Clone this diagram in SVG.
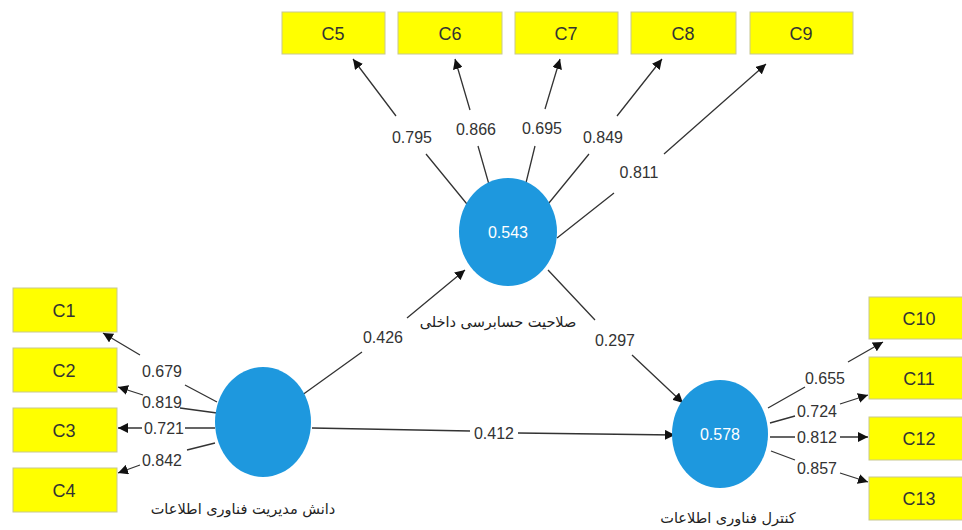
<svg xmlns="http://www.w3.org/2000/svg" width="962" height="530" viewBox="0 0 962 530">
<defs>
<marker id="ah" viewBox="0 0 10 10" refX="10" refY="5" markerWidth="10" markerHeight="10" markerUnits="userSpaceOnUse" orient="auto">
<path d="M0,0 L10,5 L0,10 z" fill="#111"/>
</marker>
<style>
.box{fill:#ffff00;stroke:#c8c890;stroke-width:1}
.bt{font-family:"Liberation Sans",Arial,sans-serif;font-size:18px;fill:#333;text-anchor:middle}
.lat{fill:#1e98de}
.lt{font-family:"Liberation Sans",Arial,sans-serif;font-size:16px;fill:#fff;text-anchor:middle}
.w{font-family:"Liberation Sans",Arial,sans-serif;font-size:16px;fill:#333;text-anchor:middle}
.c{fill:none;stroke:#333;stroke-width:1.3;marker-end:url(#ah)}
.nm{font-family:"DejaVu Sans","Noto Sans",sans-serif;font-size:14.5px;fill:#222;text-anchor:middle}
</style>
</defs>
<rect width="962" height="530" fill="#fff"/>
<g id="connectors">
<path class="c" d="M471,209 L426,154 M396,116 L353,59"/>
<path class="c" d="M492,195 L478,146 M470,110 L455,59"/>
<path class="c" d="M523,195 L535,146 M545,109 L560,59"/>
<path class="c" d="M544,209 L589,154 M617,116 L662,59"/>
<path class="c" d="M557,238 L614,193 M664,154 L766,64"/>
<path class="c" d="M217,402 L185,385 M140,355 L103,333"/>
<path class="c" d="M217,413 L180,408 M143,395 L118,387"/>
<path class="c" d="M215,428 L185,428 M142,428 L118,428"/>
<path class="c" d="M215,443 L187,450 M140,465 L118,473"/>
<path class="c" d="M768,408 L805,387 M848,362 L883,342"/>
<path class="c" d="M770,423 L795,416 M840,404 L868,395"/>
<path class="c" d="M770,437 L795,437 M840,437 L868,437"/>
<path class="c" d="M771,451 L795,460 M840,473 L868,482"/>
<path class="c" d="M298,398 L362,352 M407,318 L465,270"/>
<path class="c" d="M548,270 L595,320 M632,355 L683,403"/>
<path class="c" d="M312,428 L470,431 M518,433 L675,435"/>
<g>
<text class="w" x="412" y="143">0.795</text>
<text class="w" x="476" y="135">0.866</text>
<text class="w" x="542" y="134">0.695</text>
<text class="w" x="603" y="143">0.849</text>
<text class="w" x="639" y="178">0.811</text>
<text class="w" x="162" y="377">0.679</text>
<text class="w" x="162" y="408">0.819</text>
<text class="w" x="164" y="434">0.721</text>
<text class="w" x="162" y="466">0.842</text>
<text class="w" x="825" y="384">0.655</text>
<text class="w" x="817" y="417">0.724</text>
<text class="w" x="817" y="443">0.812</text>
<text class="w" x="817" y="474">0.857</text>
<text class="w" x="383" y="343">0.426</text>
<text class="w" x="615" y="346">0.297</text>
<text class="w" x="494" y="439">0.412</text>
</g>
</g>
<g id="n-mid">
<ellipse class="lat" cx="508" cy="232" rx="49" ry="54"/>
<text class="lt" x="508" y="238">0.543</text>
<text class="nm" x="498" y="327" direction="rtl">صلاحیت حسابرسی داخلی</text>
</g>
<g id="n-left">
<ellipse class="lat" cx="263" cy="422" rx="48" ry="55"/>
<text class="nm" x="243" y="514" direction="rtl">دانش مدیریت فناوری اطلاعات</text>
</g>
<g id="n-right">
<ellipse class="lat" cx="720" cy="434" rx="48" ry="54"/>
<text class="lt" x="720" y="440">0.578</text>
<text class="nm" x="728" y="523" direction="rtl">کنترل فناوری اطلاعات</text>
</g>
<g id="C5"><rect class="box" x="282" y="12" width="103" height="42"/><text class="bt" x="333" y="40">C5</text></g>
<g id="C6"><rect class="box" x="398" y="12" width="104" height="42"/><text class="bt" x="450" y="40">C6</text></g>
<g id="C7"><rect class="box" x="515" y="12" width="103" height="42"/><text class="bt" x="566" y="40">C7</text></g>
<g id="C8"><rect class="box" x="631" y="12" width="105" height="42"/><text class="bt" x="683" y="40">C8</text></g>
<g id="C9"><rect class="box" x="750" y="12" width="103" height="42"/><text class="bt" x="801" y="40">C9</text></g>
<g id="C1"><rect class="box" x="13" y="288" width="104" height="44"/><text class="bt" x="64" y="317">C1</text></g>
<g id="C2"><rect class="box" x="13" y="348" width="104" height="44"/><text class="bt" x="64" y="377">C2</text></g>
<g id="C3"><rect class="box" x="13" y="408" width="104" height="44"/><text class="bt" x="64" y="437">C3</text></g>
<g id="C4"><rect class="box" x="13" y="468" width="104" height="44"/><text class="bt" x="64" y="497">C4</text></g>
<g id="C10"><rect class="box" x="869" y="297" width="100" height="42"/><text class="bt" x="919" y="325">C10</text></g>
<g id="C11"><rect class="box" x="869" y="357" width="100" height="42"/><text class="bt" x="919" y="385">C11</text></g>
<g id="C12"><rect class="box" x="869" y="417" width="100" height="43"/><text class="bt" x="919" y="445">C12</text></g>
<g id="C13"><rect class="box" x="869" y="477" width="100" height="43"/><text class="bt" x="919" y="505">C13</text></g>
</svg>
